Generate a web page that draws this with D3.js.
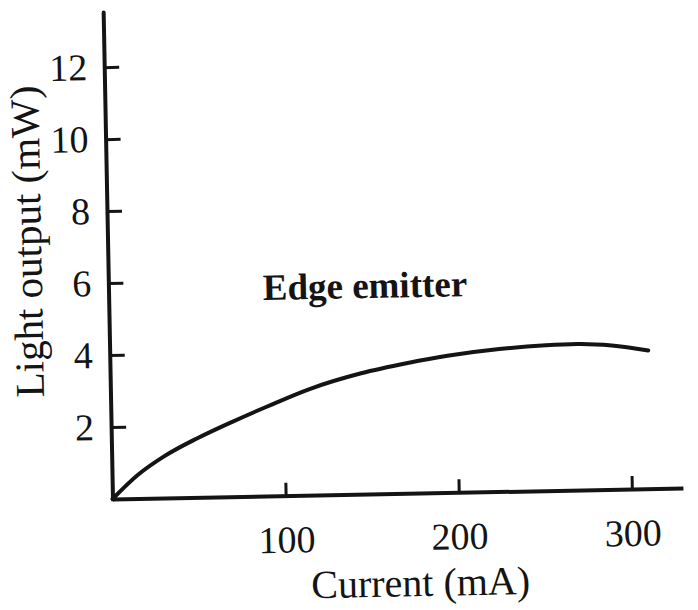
<!DOCTYPE html>
<html>
<head>
<meta charset="utf-8">
<script src="https://cdn.jsdelivr.net/npm/d3@7"></script>
<style>
  html, body { margin: 0; padding: 0; background: #fff; }
  svg { display: block; }
  .axis path, .axis line { stroke: #141414; }
  .axis text { font-family: "Liberation Serif", "Times New Roman", serif; fill: #141414; }
</style>
</head>
<body>
<svg id="chart" width="698" height="610"></svg>
<script>
//------------------------------------------------------------------------------

const dLog = console.debug;

/** Current (mA). */
const current = [0, 15, 30, 50, 70, 90, 115, 145, 172, 195, 225, 252, 270, 290, 311];
/** Light output (mW) at each current. */
const lightOutput = [0, 0.66, 1.15, 1.65, 2.08, 2.48, 2.95, 3.36, 3.62, 3.8, 3.96, 4.04, 4.06, 4.0, 3.84];

const xTicks = [100, 200, 300];
const yTicks = [2, 4, 6, 8, 10, 12];

/** the axes run a little past the last tick */
const xDomain = [0, 329.5];
const yDomain = [0, 13.53];

const xTitle = 'Current (mA)';
const yTitle = 'Light output (mW)';
const curveLabel = 'Edge emitter';

//------------------------------------------------------------------------------

const
ink = '#141414',
origin = [112.5, 499],
/** the scan is turned slightly anti-clockwise */
tilt = -1.1,
svg = d3.select('#chart'),
g = svg.append('g')
  .attr('transform', 'rotate(' + tilt + ',' + origin[0] + ',' + origin[1] + ')'),
x = d3.scaleLinear().domain(xDomain).range([origin[0], 683]),
y = d3.scaleLinear().domain(yDomain).range([origin[1], 12]);

/* x axis : ticks point up, into the plot. */
const gx = g.append('g')
  .attr('class', 'axis x')
  .attr('transform', 'translate(0,' + origin[1] + ')')
  .call(d3.axisBottom(x)
        .tickValues(xTicks)
        .tickSizeInner(-13)
        .tickSizeOuter(0)
        .tickPadding(30));
gx.select('path.domain').attr('stroke-width', 4);
gx.selectAll('.tick line').attr('stroke-width', 3);
gx.selectAll('.tick text').attr('font-size', 38);

/* y axis : ticks point right. */
const gy = g.append('g')
  .attr('class', 'axis y')
  .attr('transform', 'translate(' + origin[0] + ',0)')
  .call(d3.axisLeft(y)
        .tickValues(yTicks)
        .tickSizeInner(-15)
        .tickSizeOuter(0)
        .tickPadding(17));
gy.select('path.domain')
  .attr('stroke-width', 4)
  .attr('stroke-linecap', 'round');
gy.selectAll('.tick line').attr('stroke-width', 3);
gy.selectAll('.tick text').attr('font-size', 38);

//------------------------------------------------------------------------------

const
points = current.map((c, i) => [c, lightOutput[i]]),
line = d3.line()
  .x(d => x(d[0]))
  .y(d => y(d[1]))
  .curve(d3.curveMonotoneX);

g.append('path')
  .datum(points)
  .attr('d', line)
  .attr('fill', 'none')
  .attr('stroke', ink)
  .attr('stroke-width', 4)
  .attr('stroke-linecap', 'round');

//------------------------------------------------------------------------------

const serif = '"Liberation Serif", "Times New Roman", serif';

g.append('text')
  .attr('x', 419)
  .attr('y', 602)
  .attr('text-anchor', 'middle')
  .attr('font-family', serif)
  .attr('font-size', 40)
  .attr('fill', ink)
  .text(xTitle);

g.append('text')
  .attr('transform', 'translate(46,240) rotate(-90)')
  .attr('text-anchor', 'middle')
  .attr('font-family', serif)
  .attr('font-size', 41)
  .attr('fill', ink)
  .text(yTitle);

g.append('text')
  .attr('x', 369)
  .attr('y', 303)
  .attr('text-anchor', 'middle')
  .attr('font-family', serif)
  .attr('font-weight', 'bold')
  .attr('font-size', 37)
  .attr('fill', ink)
  .text(curveLabel);

dLog('chart', points.length, x.range(), y.range());
</script>
</body>
</html>
